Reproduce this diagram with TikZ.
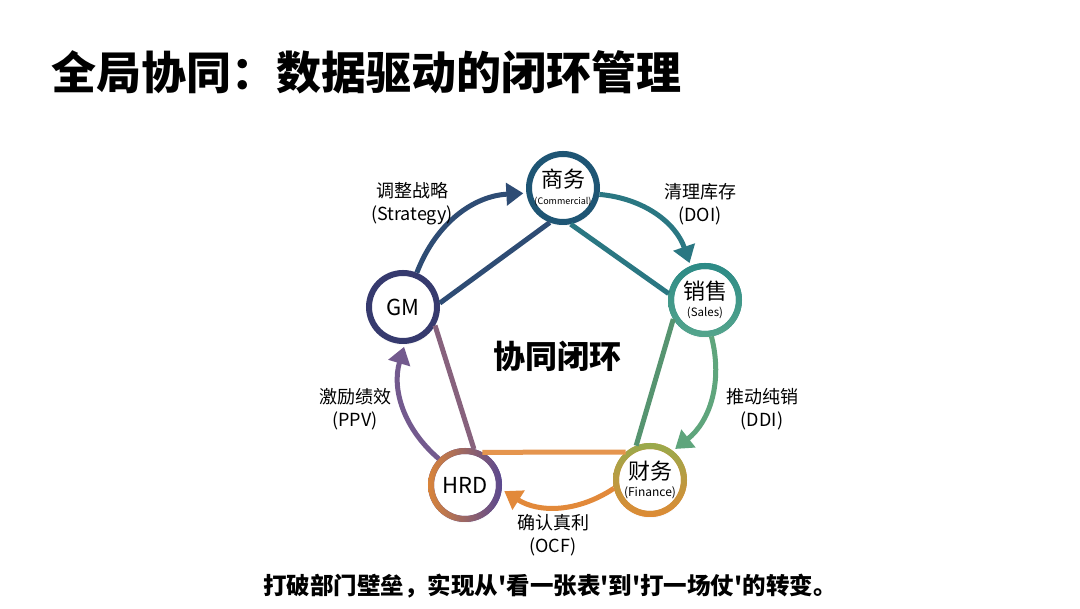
\documentclass[tikz,border=0pt]{standalone}
\usepackage{fontspec}
\setmainfont{Noto Sans CJK SC}
\usetikzlibrary{arrows.meta}
\usetikzlibrary{shadows}

\definecolor{gmblue}{HTML}{363A6E}
\definecolor{comblue}{HTML}{1E5574}
\definecolor{salteal}{HTML}{2C8A86}
\definecolor{salgreen}{HTML}{55A58C}
\definecolor{finolive}{HTML}{98AA4C}
\definecolor{finorange}{HTML}{DE8A34}
\definecolor{hrdpurple}{HTML}{5A4890}
\definecolor{hrdorange}{HTML}{D9843A}
\definecolor{arrblue}{HTML}{2E4C74}
\definecolor{arrteal}{HTML}{2A7782}
\definecolor{arrgreen}{HTML}{5FA57C}
\definecolor{arrorange}{HTML}{E2893A}
\definecolor{arrpurple}{HTML}{735A8E}

\begin{document}
\begin{tikzpicture}[x=1pt,y=1pt,
  stage/.style={circle,draw,line width=6pt,fill=white,minimum size=68pt,inner sep=0pt,align=center,
    font=\fontsize{22}{22}\selectfont,
    circular drop shadow={shadow xshift=0pt,shadow yshift=-2pt,shadow scale=1.07,opacity=0.18}},
  cyc/.style={line width=5pt,-{Triangle[length=17pt,width=22pt]},bend left=33,shorten >=3pt},
  link/.style={line width=5pt},
  tag/.style={align=center,font=\fontsize{18}{23}\selectfont}]
\useasboundingbox (0,0) rectangle (1080,609);
\fill[white] (0,0) rectangle (1080,609);

% title and caption
\node[anchor=west,font=\fontsize{45}{45}\selectfont\bfseries] (title) at (48,537) {全局协同：数据驱动的闭环管理};
\node[font=\fontsize{23.5}{23.5}\selectfont\bfseries] (caption) at (550,23)
  {打破部门壁垒，实现从\textquotesingle 看一张表\textquotesingle 到\textquotesingle 打一场仗\textquotesingle 的转变。};

% stations
\node[stage,draw=comblue] (com) at (563,421) {商务\\[-5pt]{\fontsize{9}{10}\selectfont (Commercial)}};
\node[stage,draw=salteal] (sal) at (705,309) {销售\\[-5pt]{\fontsize{11.5}{12}\selectfont (Sales)}};
\node[stage,draw=finorange] (fin) at (650,129) {财务\\[-5pt]{\fontsize{12}{12}\selectfont (Finance)}};
\node[stage,draw=hrdpurple] (hrd) at (465,124) {HRD};
\node[stage,draw=gmblue] (gm) at (403,302) {GM};

% coloured rings
\shade[even odd rule,top color=salteal,bottom color=salgreen] (sal) circle (37) (sal) circle (31);
\shade[even odd rule,top color=finolive,bottom color=finorange] (fin) circle (37) (fin) circle (31);
\shade[even odd rule,shading angle=45,left color=hrdorange,right color=hrdpurple] (hrd) circle (37) (hrd) circle (31);

% inner pentagon
\draw[link,color=arrblue] (gm.6) -- (com.249);
\draw[link,color=arrteal] (com.-78) -- (sal.170);
\draw[link,color=arrgreen!90!black] (sal.211) -- (fin.112);
\draw[link,color=arrorange!90!white] (hrd.62) -- (fin.131);
\draw[link,color=arrpurple!80!hrdorange] (gm.-30) -- (hrd.76);

\node[font=\fontsize{32}{32}\selectfont\bfseries] (core) at (557,253) {协同闭环};

% outer cycle
\draw[cyc,color=arrblue] (gm.68) to (com.188);
\draw[cyc,color=arrteal] (com.-10) to (sal.113);
\draw[cyc,color=arrgreen] (sal.-80) to (fin.52);
\draw[cyc,color=arrorange] (fin.193) to (hrd.-7);
\draw[cyc,color=arrpurple] (hrd.135) to (gm.-87);

\node[tag] (strat) at (412,405) {调整战略\\(Strategy)};
\node[tag] (doi) at (700,405) {清理库存\\(DOI)};
\node[tag] (ddi) at (762,200) {推动纯销\\(DDI)};
\node[tag] (ocf) at (553,74) {确认真利\\(OCF)};
\node[tag] (ppv) at (355,200) {激励绩效\\(PPV)};
\end{tikzpicture}
\end{document}
